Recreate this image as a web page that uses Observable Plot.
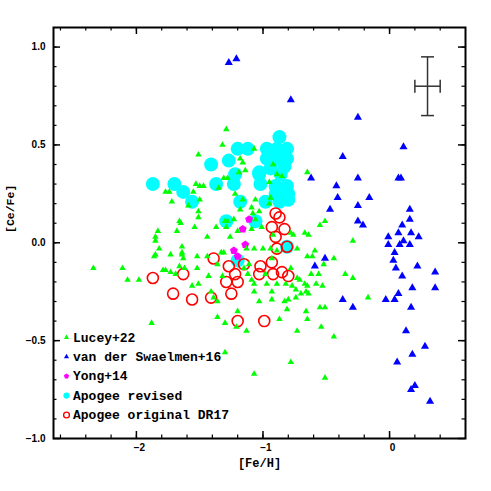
<!DOCTYPE html>
<html><head><meta charset="utf-8">
<script src="https://cdn.jsdelivr.net/npm/d3@7"></script>
<script src="https://cdn.jsdelivr.net/npm/@observablehq/plot@0.6"></script>
<style>body{margin:0;background:#fff}</style>
</head><body><div id="chart"></div>
<script>
// Lucey+22
const luceyFeH = [-1.29,-1.32,-1.51,-1.07,-1.18,-1.16,-0.92,-0.65,-1.19,-1.14,-0.89,-0.85,-0.95,-1.31,-1.28,-1.53,-1.50,-1.47,-1.35,-1.55,-1.77,-1.74,-1.22,-1.16,-1.06,-0.94,-1.50,-1.72,-1.59,-1.51,-1.18,-1.09,-1.03,-0.55,-0.51,-0.95,
  -1.66,-1.65,-1.51,-1.54,-1.83,-1.68,-1.85,-1.85,-1.37,-1.30,-1.28,-1.23,-1.29,-1.20,-1.26,-1.44,-1.08,-1.06,-1.01,-1.09,-0.92,-0.78,-0.76,-0.67,-0.64,
  -1.64,-1.82,-1.85,-1.86,-1.73,-1.64,-1.64,-1.63,-1.52,-1.44,-1.33,-1.13,-1.07,-1.00,-0.94,-0.89,-0.73,-0.59,-0.65,-0.61,-0.44,-0.29,-1.31,-0.93,
  -2.34,-2.11,-2.07,-1.98,-1.79,-1.77,-1.73,-1.66,-1.62,-1.69,-1.52,-1.56,-1.51,-1.43,-1.36,-1.32,-1.15,-1.12,-1.11,-1.09,-1.07,-0.98,-0.97,-0.89,-0.82,-0.78,-0.71,-0.67,-0.65,-0.73,-0.77,-0.74,-0.70,-0.66,-0.64,-0.74,-0.80,-0.58,-0.53,-0.56,-0.62,-0.35,-0.29,-0.52,-1.07,-0.93,-1.41,-1.39,-1.03,-0.83,-0.93,-1.36,-0.17,
  -1.88,-1.36,-1.30,-1.20,-1.21,-1.13,-0.87,-0.81,-0.73,-0.66,-0.65,-0.55,-0.51,-0.54,-0.44,-1.30,-0.78,-1.07,-0.51];
const luceyCeFe = [0.58,0.50,0.45,0.48,0.43,0.41,0.40,0.36,0.36,0.37,0.35,0.34,0.31,0.33,0.33,0.30,0.29,0.29,0.28,0.26,0.26,0.26,0.25,0.22,0.22,0.23,0.22,0.21,0.19,0.16,0.17,0.18,0.16,0.09,0.11,0.20,
  0.11,0.10,0.13,0.08,0.06,0.06,0.03,0.01,0.08,0.11,0.11,0.12,0.08,0.06,0.03,0.03,0.15,0.12,0.08,0.07,0.04,0.05,0.04,0.05,0.04,
  -0.02,-0.03,-0.06,-0.07,-0.06,-0.05,-0.06,-0.08,-0.07,-0.07,-0.05,-0.03,-0.03,-0.03,-0.03,-0.04,-0.03,-0.04,-0.07,-0.07,-0.08,0.01,-0.05,-0.08,
  -0.13,-0.13,-0.19,-0.19,-0.14,-0.14,-0.15,-0.12,-0.13,-0.16,-0.13,-0.22,-0.21,-0.17,-0.11,-0.17,-0.13,-0.16,-0.11,-0.19,-0.21,-0.16,-0.21,-0.21,-0.21,-0.13,-0.19,-0.21,-0.22,-0.18,-0.22,-0.24,-0.26,-0.25,-0.26,-0.28,-0.29,-0.21,-0.22,-0.16,-0.16,-0.16,-0.18,-0.11,-0.25,-0.25,-0.25,-0.28,-0.30,-0.30,-0.29,-0.30,-0.28,
  -0.41,-0.38,-0.41,-0.35,-0.43,-0.45,-0.39,-0.34,-0.45,-0.35,-0.39,-0.33,-0.33,-0.43,-0.48,-0.56,-0.61,-0.67,-0.69];
// van der Swaelmen+16
const vdsFeH = [-1.27,-1.21,-0.78,-0.25,0.11,-0.37,-0.62,-0.25,0.07,0.09,-0.42,-0.41,-0.16,-0.25,-0.47,0.16,0.16,-0.25,-0.21,0.10,0.07,0.17,-0.01,0.23,0.11,-0.01,0.08,0.16,0.04,0.03,0.22,0.05,0.10,0.36,0.36,0.18,0.07,-0.03,0.04,0.17,-0.37,-0.29,-0.51,-0.59,0.13,0.28,0.18,0.06,0.20,0.17,0.32];
const vdsCeFe = [0.92,0.94,0.73,0.64,0.49,0.44,0.33,0.33,0.33,0.33,0.29,0.23,0.23,0.19,0.17,0.17,0.12,0.11,0.09,0.09,0.05,0.05,0.03,0.03,0.01,-0.01,-0.01,-0.01,-0.05,-0.09,-0.12,-0.13,-0.17,-0.15,-0.23,-0.23,-0.26,-0.29,-0.29,-0.33,-0.29,-0.33,-0.08,-0.12,-0.45,-0.53,-0.57,-0.61,-0.73,-0.75,-0.81];
// Yong+14
const yongFeH = [-1.11,-1.16,-1.14,-1.23,-1.20];
const yongCeFe = [0.12,0.07,-0.01,-0.04,-0.07];
// Apogee revised
const revFeH = [-0.87,-1.20,-1.12,-0.97,-0.89,-0.81,-0.97,-0.89,-0.81,-1.41,-1.27,-1.22,-1.03,-0.86,-0.94,-1.87,-1.70,-1.63,-1.56,-1.37,-1.23,-1.02,-0.90,-0.81,-0.90,-0.80,-1.18,-0.98,-0.87,-0.80,-1.29,-1.06,-0.81,-1.20,-0.94,-0.83,-1.03];
const revCeFe = [0.54,0.48,0.48,0.48,0.48,0.48,0.43,0.43,0.43,0.40,0.42,0.35,0.35,0.35,0.38,0.30,0.30,0.26,0.21,0.30,0.30,0.30,0.29,0.29,0.25,0.25,0.21,0.21,0.21,0.22,0.11,0.11,-0.02,-0.09,0.46,0.39,0.36];
// Apogee original DR17
const origFeH = [-0.90,-0.87,-0.93,-0.83,-0.90,-0.89,-0.81,-1.39,-1.27,-1.15,-1.02,-0.93,-1.22,-1.29,-1.20,-1.03,-0.92,-0.85,-0.80,-1.87,-1.63,-1.71,-1.56,-1.41,-1.25,-1.20,-0.99];
const origCeFe = [0.15,0.13,0.08,0.07,0.03,-0.03,-0.02,-0.08,-0.12,-0.11,-0.12,-0.10,-0.16,-0.20,-0.20,-0.16,-0.16,-0.15,-0.17,-0.18,-0.16,-0.26,-0.29,-0.28,-0.26,-0.40,-0.40];
// typical error bar
const errFeH = [0.3], errCeFe = [0.8], errDX = [0.1], errDY = [0.15];
// axes
const xMajor = [-2, -1, 0];
const xMinor = d3.range(-13, 3).map(i => +(i * 0.2).toFixed(1));
const yMajor = [-1, -0.5, 0, 0.5, 1];
const yMinor = d3.range(-9, 11).map(i => +(i * 0.1).toFixed(1));
const legendLabels = ["Lucey+22", "van der Swaelmen+16", "Yong+14", "Apogee revised", "Apogee original DR17"];

const zip = (xs, ys) => xs.map((x, i) => ({x, y: ys[i]}));
const lucey = zip(luceyFeH, luceyCeFe), vds = zip(vdsFeH, vdsCeFe), yong = zip(yongFeH, yongCeFe),
      rev = zip(revFeH, revCeFe), orig = zip(origFeH, origCeFe);
const err = errFeH.map((x, i) => ({x, y: errCeFe[i], dx: errDX[i], dy: errDY[i]}));

const pentagon = {draw(ctx, size) {
  const R = Math.sqrt(size / 2.378);
  for (let k = 0; k < 5; k++) {
    const a = -Math.PI / 2 + k * 2 * Math.PI / 5;
    const px = R * Math.cos(a), py = R * Math.sin(a);
    k ? ctx.lineTo(px, py) : ctx.moveTo(px, py);
  }
  ctx.closePath();
}};
const hCap = {draw(ctx) { ctx.moveTo(-6.5, 0); ctx.lineTo(6.5, 0); }};
const vCap = {draw(ctx) { ctx.moveTo(0, -6.5); ctx.lineTo(0, 6.5); }};

const W = 491, H = 491, mL = 53, mR = 26, mT = 27, mB = 53;
const iW = W - mL - mR, iH = H - mT - mB;
const fmtY = d3.format(".1f"), fmtX = d3.format("d");
const tickFont = "Liberation Sans, Arial, sans-serif";
const labFont = "Liberation Mono, Courier New, monospace";

const legendStyles = [
  {symbol: "triangle", fill: "#00ff00", r: 1.9},
  {symbol: "triangle", fill: "#0000ff", r: 1.9},
  {symbol: pentagon, fill: "#ff00ff", r: 2.4},
  {symbol: "circle", fill: "#00ffff", r: 3.1},
  {symbol: "circle", stroke: "#ff0000", fill: "none", r: 2.9, strokeWidth: 1.4}
];
const legendMarks = legendLabels.flatMap((lab, i) => {
  const dy = -23.5 - (4 - i) * 19.4;
  return [
    Plot.dot([lab], {frameAnchor: "bottom-left", dx: 13, dy, ...legendStyles[i]}),
    Plot.text([lab], {frameAnchor: "bottom-left", dx: 19.5, dy, text: d => d, textAnchor: "start",
      lineAnchor: "middle", fontFamily: labFont, fontWeight: "bold", fontSize: 13, fill: "black"})
  ];
});

const chart = Plot.plot({
  width: W, height: H, marginLeft: mL, marginRight: mR, marginTop: mT, marginBottom: mB,
  x: {domain: [-2.655, 0.6], axis: null},
  y: {domain: [-1, 1.1], axis: null},
  style: {background: "white"},
  marks: [
    Plot.dot(rev, {x: "x", y: "y", r: 7, fill: "#00ffff"}),
    Plot.dot(orig, {x: "x", y: "y", r: 5.5, stroke: "#ff0000", strokeWidth: 1.6, fill: "none"}),
    Plot.dot(yong, {x: "x", y: "y", r: 3.6, symbol: pentagon, fill: "#ff00ff"}),
    Plot.dot(vds, {x: "x", y: "y", r: 3.0, symbol: "triangle", fill: "#0000ff"}),
    Plot.dot(lucey, {x: "x", y: "y", r: 2.4, symbol: "triangle", fill: "#00ff00"}),
    // error bar
    Plot.link(err, {x1: d => d.x - d.dx, x2: d => d.x + d.dx, y1: "y", y2: "y", stroke: "#333", strokeWidth: 1.5}),
    Plot.link(err, {x1: "x", x2: "x", y1: d => d.y - d.dy, y2: d => d.y + d.dy, stroke: "#333", strokeWidth: 1.5}),
    Plot.dot(err, {x: d => d.x - d.dx, y: "y", symbol: vCap, stroke: "#333", strokeWidth: 1.5, fill: "none"}),
    Plot.dot(err, {x: d => d.x + d.dx, y: "y", symbol: vCap, stroke: "#333", strokeWidth: 1.5, fill: "none"}),
    Plot.dot(err, {x: "x", y: d => d.y - d.dy, symbol: hCap, stroke: "#333", strokeWidth: 1.5, fill: "none"}),
    Plot.dot(err, {x: "x", y: d => d.y + d.dy, symbol: hCap, stroke: "#333", strokeWidth: 1.5, fill: "none"}),
    // ticks
    Plot.ruleX(xMinor, {insetTop: iH - 3.5, stroke: "black", strokeWidth: 1.2}),
    Plot.ruleX(xMinor, {insetBottom: iH - 3.5, stroke: "black", strokeWidth: 1.2}),
    Plot.ruleX(xMajor, {insetTop: iH - 7, stroke: "black", strokeWidth: 1.5}),
    Plot.ruleX(xMajor, {insetBottom: iH - 7, stroke: "black", strokeWidth: 1.5}),
    Plot.ruleY(yMinor, {insetRight: iW - 3.5, stroke: "black", strokeWidth: 1.2}),
    Plot.ruleY(yMinor, {insetLeft: iW - 3.5, stroke: "black", strokeWidth: 1.2}),
    Plot.ruleY(yMajor, {insetRight: iW - 7, stroke: "black", strokeWidth: 1.5}),
    Plot.ruleY(yMajor, {insetLeft: iW - 7, stroke: "black", strokeWidth: 1.5}),
    Plot.frame({stroke: "black", strokeWidth: 2}),
    // tick labels
    Plot.text(xMajor, {x: d => d, frameAnchor: "bottom", dy: 5, dx: 3, lineAnchor: "top", text: d => fmtX(d).replace("-", "\u2212"),
      fontFamily: tickFont, fontWeight: "bold", fontSize: 10, fill: "black"}),
    Plot.text(yMajor, {y: d => d, frameAnchor: "left", dx: -8, textAnchor: "end", text: d => fmtY(d).replace("-", "\u2212"),
      fontFamily: tickFont, fontWeight: "bold", fontSize: 10, fill: "black"}),
    // axis labels
    Plot.text(["[Fe/H]"], {frameAnchor: "bottom", dy: 20, lineAnchor: "top", text: d => d,
      fontFamily: labFont, fontWeight: "bold", fontSize: 12, fill: "black"}),
    Plot.text(["[Ce/Fe]"], {frameAnchor: "left", dx: -43, rotate: -90, text: d => d,
      fontFamily: labFont, fontWeight: "bold", fontSize: 11.5, fill: "black"}),
    ...legendMarks
  ]
});
document.getElementById("chart").appendChild(chart);
</script></body></html>
